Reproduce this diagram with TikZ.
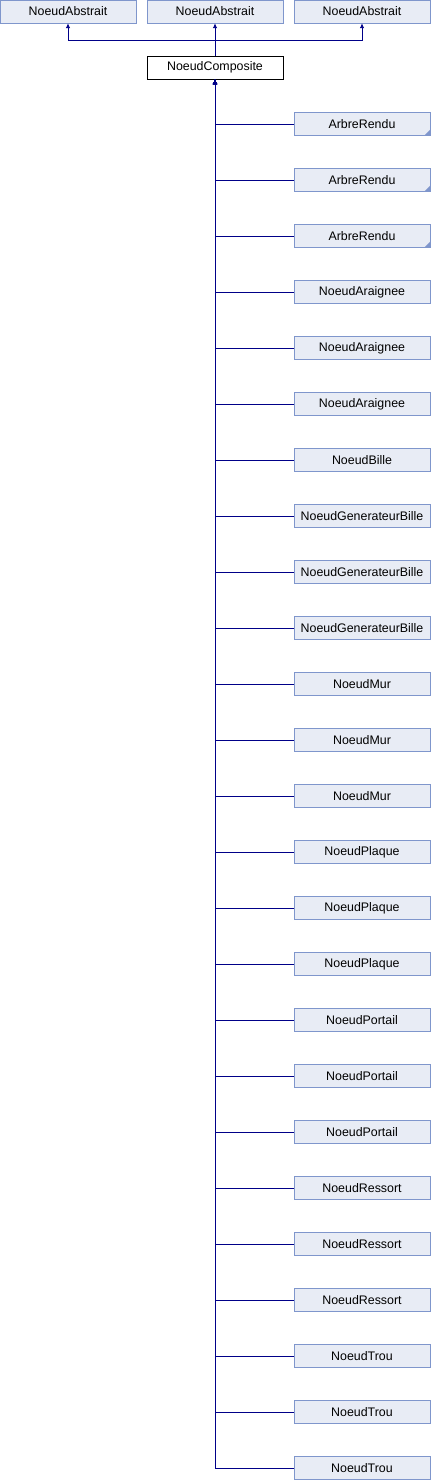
\documentclass[tikz,border=0pt]{standalone}
\usepackage{fontspec}
\setmainfont{Liberation Sans}
\usetikzlibrary{arrows.meta}
\definecolor{boxfill}{HTML}{E8ECF5}
\definecolor{boxline}{HTML}{7F96CC}
\definecolor{edgeblue}{HTML}{000088}
\tikzset{
  classbox/.style={draw=boxline, fill=boxfill, minimum width=136pt, minimum height=23pt,
    inner sep=0pt, font=\fontsize{12.4}{14}\selectfont},
  mainbox/.style={classbox, draw=black, fill=white},
  edge/.style={edgeblue, line width=0.9pt, -{Latex[length=5pt,width=4.5pt]}}
}
\begin{document}
\begin{tikzpicture}[x=1pt, y=-1pt]
  \useasboundingbox (0,0) rectangle (431,1480);
  % base classes
  \node[classbox] (abs1) at (68,11.5) {NoeudAbstrait};
  \node[classbox] (abs2) at (215,11.5) {NoeudAbstrait};
  \node[classbox] (abs3) at (362,11.5) {NoeudAbstrait};
  \node[mainbox] (comp) at (215,67.5) {NoeudComposite};
  \coordinate (junction) at (215,40);
  \draw[edge] (comp.north) -- (junction) -| (abs1.south);
  \draw[edge] (junction) -| (abs3.south);
  \draw[edge] (comp.north) -- (abs2.south);
  % derived classes
  \foreach \name [count=\i] in {ArbreRendu,ArbreRendu,ArbreRendu,
      NoeudAraignee,NoeudAraignee,NoeudAraignee,NoeudBille,
      NoeudGenerateurBille,NoeudGenerateurBille,NoeudGenerateurBille,
      NoeudMur,NoeudMur,NoeudMur,NoeudPlaque,NoeudPlaque,NoeudPlaque,
      NoeudPortail,NoeudPortail,NoeudPortail,NoeudRessort,NoeudRessort,NoeudRessort,
      NoeudTrou,NoeudTrou,NoeudTrou} {
    \node[classbox] (child\i) at (362,{124+56*(\i-1)}) {\name};
    \draw[edge] (child\i.west) -| (comp.south);
  }
  % folded corners
  \foreach \i in {1,2,3}
    \fill[boxline] (child\i.south east) -- ++(-6,0) -- ++(6,-6) -- cycle;
\end{tikzpicture}
\end{document}
